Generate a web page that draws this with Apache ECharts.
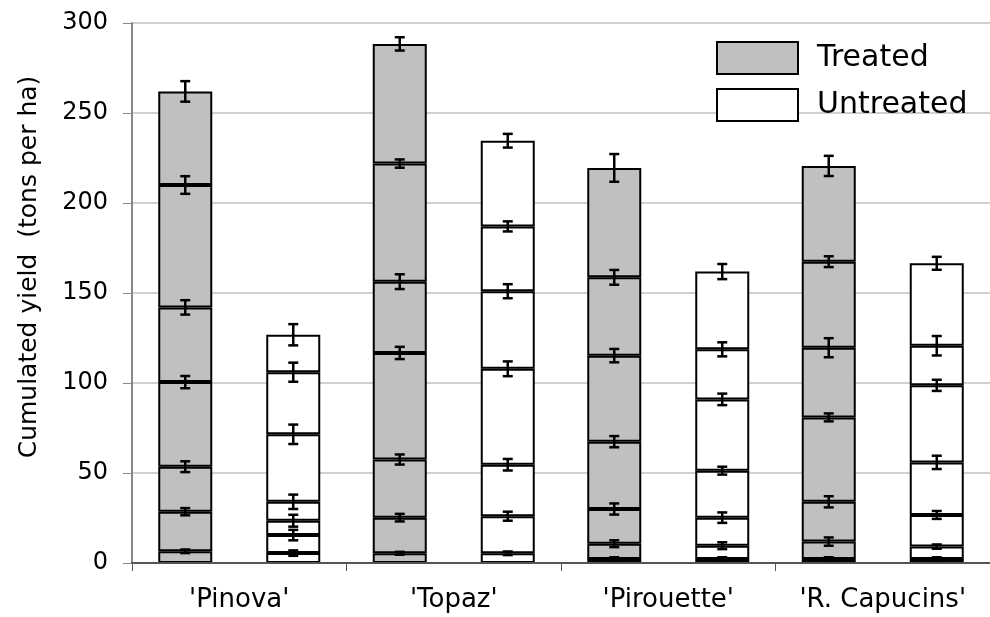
<!DOCTYPE html>
<html>
<head>
<meta charset="utf-8">
<script src="https://cdn.jsdelivr.net/npm/echarts@6/dist/echarts.min.js"></script>
<style>html,body{margin:0;padding:0;background:#fff}#c{width:990px;height:617px}</style>
</head>
<body>
<div id="c"></div>
<script>
// ---- data (cumulative yield at each harvest, bottom to top) ----
const cultivars = ["'Pinova'", "'Topaz'", "'Pirouette'", "'R. Capucins'"];
const yTicks = [0, 50, 100, 150, 200, 250, 300];

const pinovaTreated      = [6.5, 28.5, 53.5, 100.5, 142.0, 210.0, 262.0];
const pinovaTreatedErr   = [1.0, 2.0, 3.0, 3.4, 4.0, 4.9, 5.7];
const pinovaUntreated    = [5.5, 15.5, 23.5, 34.0, 71.5, 106.0, 126.8];
const pinovaUntreatedErr = [1.5, 2.9, 3.3, 4.0, 5.4, 5.3, 5.9];

const topazTreated       = [5.4, 25.2, 57.5, 116.7, 156.3, 221.9, 288.4];
const topazTreatedErr    = [0.8, 2.1, 2.8, 3.4, 4.1, 2.3, 3.7];
const topazUntreated     = [5.4, 26.0, 54.6, 107.9, 151.0, 187.0, 234.6];
const topazUntreatedErr  = [1.0, 2.5, 3.2, 4.1, 3.9, 2.8, 3.8];

const pirouetteTreated      = [2.2, 10.7, 30.0, 67.4, 115.2, 158.7, 219.5];
const pirouetteTreatedErr   = [1.0, 1.9, 3.1, 3.1, 3.7, 4.1, 7.7];
const pirouetteUntreated    = [2.2, 9.6, 25.2, 51.3, 90.9, 118.7, 161.9];
const pirouetteUntreatedErr = [1.0, 1.9, 2.9, 2.2, 3.2, 3.9, 4.2];

const capucinsTreated      = [2.2, 11.9, 34.0, 80.9, 119.6, 167.4, 220.6];
const capucinsTreatedErr   = [1.0, 2.3, 3.1, 2.2, 5.3, 3.0, 5.6];
const capucinsUntreated    = [2.2, 9.1, 26.7, 55.9, 98.7, 120.7, 166.5];
const capucinsUntreatedErr = [1.0, 1.2, 2.2, 3.7, 3.1, 5.4, 3.6];

// ---- build ----
const treatedCum = [pinovaTreated, topazTreated, pirouetteTreated, capucinsTreated];
const treatedErr = [pinovaTreatedErr, topazTreatedErr, pirouetteTreatedErr, capucinsTreatedErr];
const untreatedCum = [pinovaUntreated, topazUntreated, pirouetteUntreated, capucinsUntreated];
const untreatedErr = [pinovaUntreatedErr, topazUntreatedErr, pirouetteUntreatedErr, capucinsUntreatedErr];

const BAR_W = 54;
const FONT = 'DejaVu Sans, Verdana, sans-serif';
const nHarvest = 7;

function increments(cumList, k) {
  return cumList.map(c => +(c[k] - (k > 0 ? c[k - 1] : 0)).toFixed(3));
}

const series = [];
for (let k = 0; k < nHarvest; k++) {
  series.push({
    name: 'Treated', type: 'bar', stack: 'T', barWidth: BAR_W, barGap: '100%',
    data: increments(treatedCum, k),
    itemStyle: { color: '#c0c0c0', borderColor: '#000', borderWidth: 2 },
    emphasis: { disabled: true }, animation: false
  });
}
for (let k = 0; k < nHarvest; k++) {
  series.push({
    name: 'Untreated', type: 'bar', stack: 'U', barWidth: BAR_W, barGap: '100%',
    data: increments(untreatedCum, k),
    itemStyle: { color: '#ffffff', borderColor: '#000', borderWidth: 2 },
    emphasis: { disabled: true }, animation: false
  });
}

function errData(cumList, errList, side) {
  const out = [];
  cumList.forEach((c, i) => c.forEach((v, k) => out.push([i, v, errList[i][k], side])));
  return out;
}

function renderErr(params, api) {
  const cat = api.value(0), v = api.value(1), e = api.value(2), side = api.value(3);
  const off = side * BAR_W;
  const top = api.coord([cat, v + e]);
  const bot = api.coord([cat, v - e]);
  const x = top[0] + off;
  const cap = 5;
  const st = { stroke: '#000', lineWidth: 2.5 };
  return {
    type: 'group',
    children: [
      { type: 'line', shape: { x1: x, y1: top[1], x2: x, y2: bot[1] }, style: st },
      { type: 'line', shape: { x1: x - cap, y1: top[1], x2: x + cap, y2: top[1] }, style: st },
      { type: 'line', shape: { x1: x - cap, y1: bot[1], x2: x + cap, y2: bot[1] }, style: st }
    ]
  };
}

series.push({
  type: 'custom', renderItem: renderErr, z: 10, silent: true, animation: false,
  data: errData(treatedCum, treatedErr, -1)
});
series.push({
  type: 'custom', renderItem: renderErr, z: 10, silent: true, animation: false,
  data: errData(untreatedCum, untreatedErr, 1)
});

const chart = echarts.init(document.getElementById('c'), null, { renderer: 'canvas' });
chart.setOption({
  backgroundColor: '#fff',
  animation: false,
  textStyle: { fontFamily: FONT },
  grid: { left: 132, right: 0, top: 23, bottom: 54, containLabel: false },
  legend: {
    orient: 'vertical', left: 716, top: 41, padding: 0,
    itemWidth: 81, itemHeight: 32, itemGap: 13,
    selectedMode: false,
    textStyle: { fontFamily: FONT, fontSize: 30, color: '#000', padding: [0, 0, 0, 14] },
    data: [
      { name: 'Treated', icon: 'rect', itemStyle: { color: '#c0c0c0', borderColor: '#000', borderWidth: 2 } },
      { name: 'Untreated', icon: 'rect', itemStyle: { color: '#fff', borderColor: '#000', borderWidth: 2 } }
    ]
  },
  xAxis: {
    type: 'category', data: cultivars,
    axisLine: { lineStyle: { color: '#555', width: 2 } },
    axisTick: { show: true, length: 8, lineStyle: { color: '#555', width: 1 } },
    axisLabel: { fontFamily: FONT, fontSize: 26, color: '#000', margin: 24, interval: 0, hideOverlap: false },
    z: 5
  },
  yAxis: {
    type: 'value', min: yTicks[0], max: yTicks[yTicks.length - 1], interval: 50,
    name: 'Cumulated yield  (tons per ha)', nameLocation: 'middle', nameGap: 90,
    nameTextStyle: { fontFamily: FONT, fontSize: 25, color: '#000', padding: [0, 0, 0, 52] },
    axisLine: { show: true, lineStyle: { color: '#888', width: 2 } },
    axisTick: { show: true, length: 9, lineStyle: { color: '#888', width: 1 } },
    axisLabel: { fontFamily: FONT, fontSize: 24, color: '#000', margin: 24 },
    splitLine: { show: true, lineStyle: { color: '#c0c0c0', width: 1.5 } }
  },
  series: series
});
</script>
</body>
</html>
